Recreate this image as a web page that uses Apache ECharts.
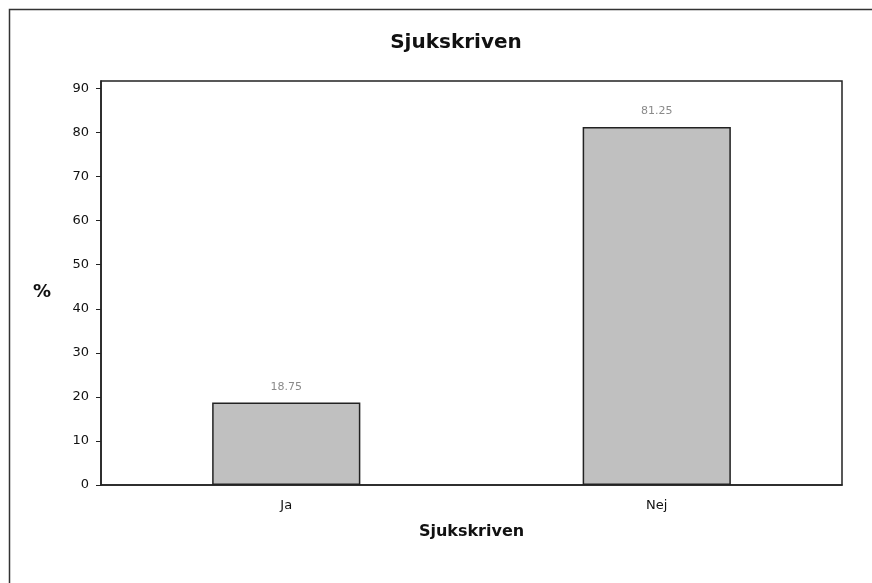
<!DOCTYPE html>
<html>
<head>
<meta charset="utf-8">
<script src="https://cdn.jsdelivr.net/npm/echarts@6/dist/echarts.min.js"></script>
<style>
  html, body { margin: 0; padding: 0; background: #fff; }
  #main { width: 872px; height: 583px; }
</style>
</head>
<body>
<div id="main"></div>
<script>
// data
const categories = ['Ja', 'Nej'];
const percentValues = [18.75, 81.25];
const yTicks = [0, 10, 20, 30, 40, 50, 60, 70, 80, 90];

const chart = echarts.init(document.getElementById('main'));
const font = 'DejaVu Sans';

chart.setOption({
  backgroundColor: '#fff',
  animation: false,
  title: {
    text: 'Sjukskriven',
    left: 451,
    top: 28,
    textAlign: 'center',
    textStyle: { fontFamily: font, fontSize: 20, fontWeight: 'bold', color: '#111' }
  },
  graphic: [{
    type: 'rect',
    silent: true,
    shape: { x: 9.5, y: 9.5, width: 1000, height: 1000 },
    style: { fill: 'none', stroke: '#333', lineWidth: 1.5 }
  }],
  grid: {
    left: 101, right: 30, top: 81, bottom: 98,
    show: true,
    borderColor: '#222',
    borderWidth: 1.5
  },
  xAxis: {
    type: 'category',
    data: categories,
    name: 'Sjukskriven',
    nameLocation: 'middle',
    nameGap: 39,
    nameTextStyle: { fontFamily: font, fontSize: 16, fontWeight: 'bold', color: '#111' },
    axisLine: { lineStyle: { color: '#222', width: 1.5 } },
    axisTick: { alignWithLabel: true, length: 5, lineStyle: { color: '#222' } },
    axisLabel: { fontFamily: font, fontSize: 13, color: '#111', margin: 14 }
  },
  yAxis: {
    type: 'value',
    min: 0,
    max: 91.7,
    interval: 10,
    name: '%',
    nameLocation: 'middle',
    nameRotate: 0,
    nameGap: 50,
    nameTextStyle: { fontFamily: font, fontSize: 18, fontWeight: 'bold', color: '#111', verticalAlign: 'top' },
    axisLine: { show: true, lineStyle: { color: '#222', width: 1.5 } },
    axisTick: { show: true, length: 5, customValues: yTicks, lineStyle: { color: '#222' } },
    axisLabel: { fontFamily: font, fontSize: 13, color: '#111', margin: 12, customValues: yTicks },
    splitLine: { show: false }
  },
  series: [{
    name: 'Sjukskriven',
    type: 'bar',
    data: percentValues,
    barWidth: '40%',
    itemStyle: { color: '#c0c0c0', borderColor: '#222', borderWidth: 1.5 },
    label: {
      show: true,
      position: 'top',
      distance: 10,
      fontFamily: font,
      fontSize: 11,
      color: '#8a8a8a'
    }
  }]
});
</script>
</body>
</html>
